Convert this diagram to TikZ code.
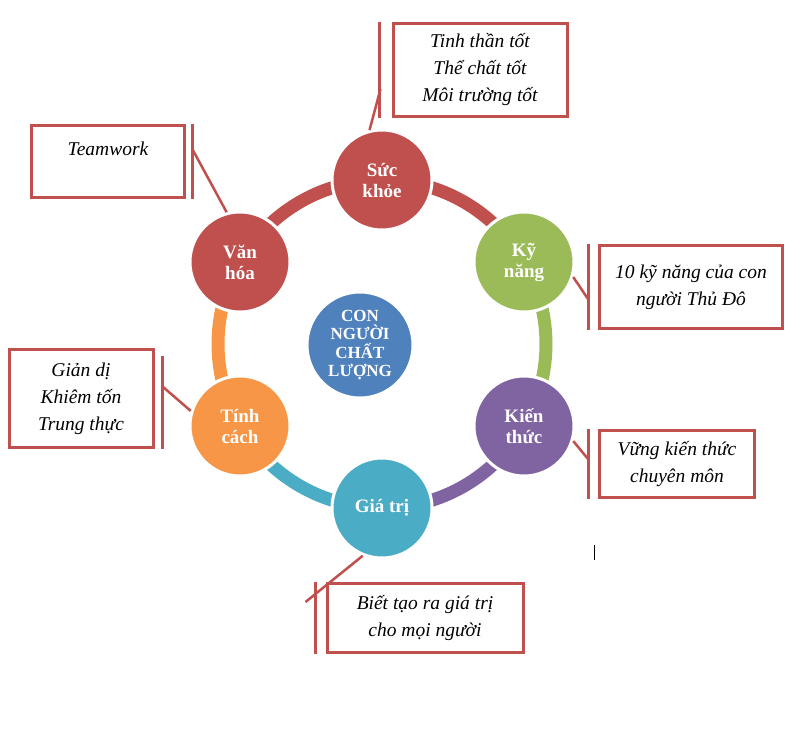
\documentclass[tikz,border=0pt]{standalone}
\usepackage{fontspec}
\setmainfont{Liberation Serif}
\definecolor{skred}{HTML}{C0504D}
\definecolor{kngreen}{HTML}{9BBB59}
\definecolor{ktpurple}{HTML}{8064A2}
\definecolor{gtteal}{HTML}{4BACC6}
\definecolor{tcorange}{HTML}{F79646}
\definecolor{coreblue}{HTML}{4F81BD}
\tikzstyle{bubble}=[circle,draw=white,line width=3pt,minimum size=100pt,inner sep=0pt,text=white,align=center,font=\bfseries\fontsize{19}{21}\selectfont]
\tikzstyle{core}=[bubble,fill=coreblue,minimum size=106pt,font=\bfseries\fontsize{17}{18.5}\selectfont]
\tikzstyle{note}=[draw=skred,line width=3pt,fill=white,align=center,inner sep=0pt,font=\itshape\fontsize{19.5}{27}\selectfont]
\tikzstyle{bar}=[draw=skred,line width=3pt]
\tikzstyle{leader}=[draw=skred,line width=2.5pt]
\tikzstyle{ring}=[line width=13pt]

\begin{document}
\begin{tikzpicture}[x=1pt,y=1pt]
\useasboundingbox (0,0) rectangle (800,731);
\coordinate (o) at (382,387);
% ring
\draw[ring, skred] (o) ++(90:164pt) arc[start angle=90, end angle=30, radius=164pt];
\draw[ring, kngreen] (o) ++(30:164pt) arc[start angle=30, end angle=-30, radius=164pt];
\draw[ring, ktpurple] (o) ++(-30:164pt) arc[start angle=-30, end angle=-90, radius=164pt];
\draw[ring, gtteal] (o) ++(-90:164pt) arc[start angle=-90, end angle=-150, radius=164pt];
\draw[ring, tcorange] (o) ++(210:164pt) arc[start angle=210, end angle=150, radius=164pt];
\draw[ring, skred] (o) ++(150:164pt) arc[start angle=150, end angle=90, radius=164pt];
% circles
\node[bubble, fill=skred] at (382,551) (sk) {Sức\\khỏe};
\node[bubble, fill=kngreen] at (524,469) (kn) {Kỹ\\năng};
\node[bubble, fill=ktpurple] at (524,305) (kt) {Kiến\\thức};
\node[bubble, fill=gtteal] at (382,223) (gt) {Giá trị};
\node[bubble, fill=tcorange] at (240,305) (tc) {Tính\\cách};
\node[bubble, fill=skred] at (240,469) (vh) {Văn\\hóa};
\node[core] at (360,386) (con) {CON\\NGƯỜI\\CHẤT\\LƯỢNG};
% notes
\node[note, minimum width=174pt, minimum height=93pt] at (480,661) (skn) {Tinh thần tốt\\Thể chất tốt\\Môi trường tốt};
\node[note, minimum width=153pt, minimum height=72pt] at (108,569) (vhn) {Teamwork\\\mbox{}};
\node[note, minimum width=183pt, minimum height=83pt] at (691,444) (knn) {10 kỹ năng của con\\người Thủ Đô};
\node[note, minimum width=144pt, minimum height=98pt] at (81,332) (tcn) {Giản dị\\Khiêm tốn\\Trung thực};
\node[note, minimum width=155pt, minimum height=67pt] at (677,267) (ktn) {Vững kiến thức\\chuyên môn};
\node[note, minimum width=196pt, minimum height=69pt] at (425,113) (gtn) {Biết tạo ra giá trị\\cho mọi người};
% bars and leaders
\draw[bar] ([xshift=-12pt]skn.north west) -- ([xshift=-12pt]skn.south west);
\draw[leader] ([xshift=-11pt,yshift=-67pt]skn.north west) -- (sk.104);
\draw[bar] ([xshift=6pt]vhn.north east) -- ([xshift=6pt]vhn.south east);
\draw[leader] ([xshift=6pt,yshift=-24pt]vhn.north east) -- (vh.105);
\draw[bar] ([xshift=-10pt]knn.north west) -- ([xshift=-10pt]knn.south west);
\draw[leader] ([xshift=-10pt,yshift=-55pt]knn.north west) -- (kn.-17);
\draw[bar] ([xshift=8pt,yshift=-8pt]tcn.north east) -- ([xshift=8pt]tcn.south east);
\draw[leader] ([xshift=8pt,yshift=-38pt]tcn.north east) -- (tc.163);
\draw[bar] ([xshift=-10pt]ktn.north west) -- ([xshift=-10pt]ktn.south west);
\draw[leader] ([xshift=-10pt,yshift=-30pt]ktn.north west) -- (kt.-17);
\draw[bar] ([xshift=-10pt]gtn.north west) -- ([xshift=-10pt]gtn.south west);
\draw[leader] ([xshift=-20pt,yshift=-20pt]gtn.north west) -- (gt.248);
\draw[line width=0.8pt] (594,186) -- (594,171);
\end{tikzpicture}
\end{document}
